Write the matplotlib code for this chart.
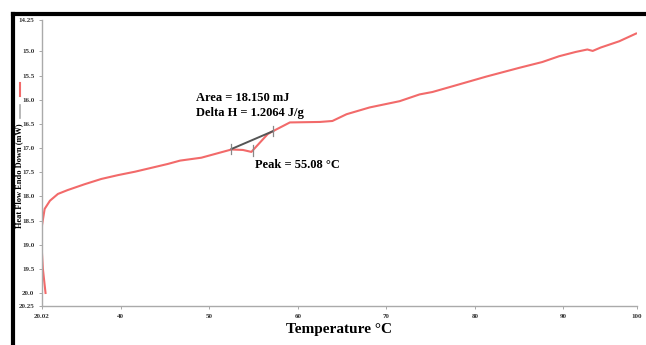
import numpy as np
import matplotlib.pyplot as plt
from matplotlib.lines import Line2D

# DSC curve (temperature in degC, heat flow in mW, endo down)
temp = [31.5, 31.2, 31.05, 31.1, 31.4, 32.0, 32.9, 34.0, 35.9, 37.8, 39.7, 41.6,
        45.3, 46.7, 49.1, 52.5, 53.8, 54.75, 55.7, 56.6, 57.2, 59.1, 62.5, 63.9,
        65.5, 68.1, 71.5, 73.75, 75.2, 77.5, 81.3, 85.0, 87.6, 89.5, 91.4, 92.7,
        93.3, 94.2, 96.3, 98.2]
heat_flow = [20.0, 19.5, 19.02, 18.6, 18.26, 18.09, 17.95, 17.87, 17.75, 17.64, 17.56, 17.49,
             17.33, 17.26, 17.20, 17.03, 17.04, 17.08, 16.89, 16.71, 16.65, 16.47, 16.46, 16.44,
             16.30, 16.16, 16.03, 15.89, 15.84, 15.72, 15.52, 15.34, 15.22, 15.10, 15.01, 14.96,
             14.99, 14.92, 14.79, 14.63]

# integration baseline and peak
base_t = [52.5, 57.2]
base_hf = [17.02, 16.65]
peak_t, peak_hf = 54.9, 17.05

x_ticks = [31.1, 40, 50, 60, 70, 80, 90, 98.3]
x_labels = ['20.02', '40', '50', '60', '70', '80', '90', '100']
y_ticks = [14.35, 15.0, 15.5, 16.0, 16.5, 17.0, 17.5, 18.0, 18.5, 19.0, 19.5, 20.0, 20.27]
y_labels = ['14.25', '15.0', '15.5', '16.0', '16.5', '17.0', '17.5', '18.0', '18.5',
            '19.0', '19.5', '20.0', '20.25']

serif = 'Liberation Serif'
red = '#f26a6a'

fig = plt.figure(figsize=(6.46, 3.45), dpi=100)
ax = fig.add_axes([0.065, 0.113, 0.921, 0.829])

ax.plot(temp, heat_flow, color=red, lw=1.5)
ax.plot(base_t, base_hf, color='#555555', lw=1.4)
for t, h in zip(base_t + [peak_t], base_hf + [peak_hf]):
    ax.plot([t, t], [h - 0.11, h + 0.11], color='#888888', lw=0.9)

ax.text(48.55, 16.03, 'Area = 18.150 mJ', fontfamily=serif, fontweight='bold', fontsize=9)
ax.text(48.55, 16.34, 'Delta H = 1.2064 J/g', fontfamily=serif, fontweight='bold', fontsize=9)
ax.text(55.2, 17.42, 'Peak = 55.08 \u00b0C', fontfamily=serif, fontweight='bold', fontsize=9)

ax.set_xlim(31.1, 98.3)
ax.set_ylim(20.27, 14.35)
ax.set_xticks(x_ticks)
ax.set_xticklabels(x_labels)
ax.set_yticks(y_ticks)
ax.set_yticklabels(y_labels)
ax.tick_params(axis='both', labelsize=5, colors='#999999', length=2, width=0.6)
for lab in ax.get_xticklabels() + ax.get_yticklabels():
    lab.set_fontfamily(serif)
    lab.set_fontweight('bold')
    lab.set_color('#333333')

for s in ['top', 'right']:
    ax.spines[s].set_visible(False)
for s in ['left', 'bottom']:
    ax.spines[s].set_color('#aaaaaa')
    ax.spines[s].set_linewidth(1.0)

ax.set_xlabel('Temperature \u00b0C', fontfamily=serif, fontweight='bold', fontsize=11,
              labelpad=3)
fig.text(0.029, 0.49, 'Heat Flow Endo Down (mW)', rotation=90, ha='center', va='center',
         fontfamily=serif, fontweight='bold', fontsize=6)

# small legend stubs on the left
fig.add_artist(Line2D([0.031, 0.031], [1 - 83 / 345, 1 - 96 / 345], color=red, lw=1.5))
fig.add_artist(Line2D([0.031, 0.031], [1 - 105 / 345, 1 - 118 / 345], color='#aaaaaa', lw=1.2))

# black frame on top and left
fig.add_artist(Line2D([13.5 / 646, 1], [1 - 14 / 345, 1 - 14 / 345], color='black', lw=3))
fig.add_artist(Line2D([13.5 / 646, 13.5 / 646], [0, 1 - 14 / 345], color='black', lw=3))

fig.savefig('out.png', dpi=100)
